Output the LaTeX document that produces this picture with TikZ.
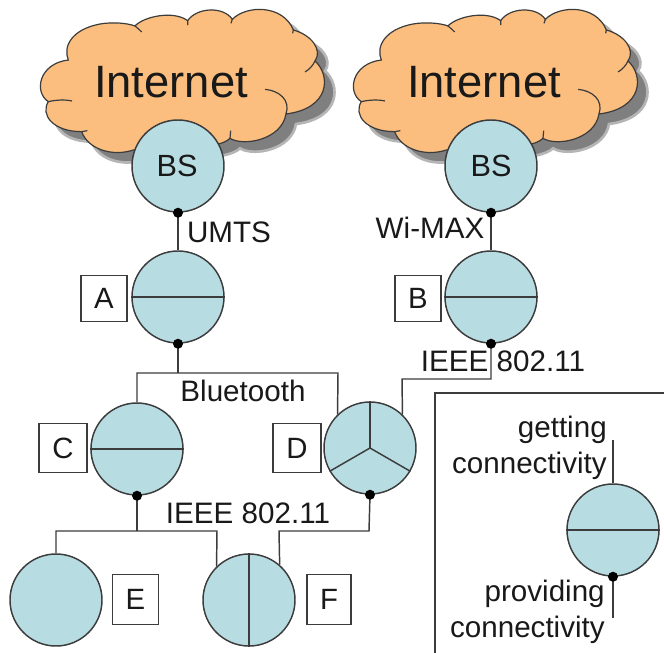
\documentclass[tikz,border=0pt]{standalone}
\usepackage{fontspec}
\setmainfont{Liberation Sans}
\definecolor{nodefill}{HTML}{B7DDE3}
\definecolor{cloudfill}{HTML}{FBBE7E}
\definecolor{linegrey}{HTML}{3C3C3C}
\definecolor{shadowgrey}{HTML}{7F7F7F}
\definecolor{shadowsoft}{HTML}{B5B5B5}
\newcommand{\cloudoutline}{
  (205,180) .. controls (188,140) and (215,88) .. (300,72)
  .. controls (340,65) and (385,70) .. (405,78)
  .. controls (430,50) and (520,30) .. (563,62)
  .. controls (590,22) and (670,18) .. (697,58)
  .. controls (740,14) and (850,14) .. (880,90)
  .. controls (935,105) and (968,150) .. (945,183)
  .. controls (992,225) and (992,325) .. (858,342)
  .. controls (845,420) and (730,440) .. (690,415)
  .. controls (650,455) and (470,445) .. (400,450)
  .. controls (340,470) and (265,450) .. (245,395)
  .. controls (160,395) and (120,345) .. (145,305)
  .. controls (100,275) and (118,190) .. (205,180) -- cycle}
\newcommand{\cloudtails}{
  (405,78) .. controls (412,84) and (420,90) .. (425,96)
  (563,62) -- (563,75)
  (697,58) -- (693,70)
  (880,90) -- (878,100)
  (945,183) .. controls (938,198) and (928,208) .. (915,216)
  (858,342) .. controls (872,300) and (838,272) .. (795,268)
  (690,415) -- (692,392)
  (245,395) -- (262,392)
  (145,305) .. controls (165,300) and (195,298) .. (216,303)}
\newcommand{\drawcloud}[1]{%
  \begin{scope}[x=.25pt,y=-.25pt,shift={(#1,0)}]
    \begin{scope}[shift={(30,30)}]
      \fill[shadowgrey,draw=shadowsoft,line width=2pt] \cloudoutline;
    \end{scope}
    \filldraw[fill=cloudfill,draw=linegrey,line width=.9pt] \cloudoutline;
    \draw[linegrey,line width=.9pt] \cloudtails;
  \end{scope}}
\tikzset{
  station/.style={circle,draw=linegrey,fill=nodefill,line width=1.1pt,minimum size=69pt,inner sep=0pt},
  labelbox/.style={draw=linegrey,fill=white,line width=.8pt,inner sep=0pt,font=\fontsize{22}{22}\selectfont,text=black!90},
  wire/.style={linegrey,line width=1.1pt},
  portdot/.style={circle,fill=black,inner sep=0pt,minimum size=7.5pt},
  txt/.style={inner sep=0pt,font=\fontsize{22.2}{22}\selectfont,text=black!90},
  bigtxt/.style={inner sep=0pt,font=\fontsize{34}{34}\selectfont,text=black!90},
  bstxt/.style={inner sep=0pt,font=\fontsize{23}{23}\selectfont,text=black!90}
}
\begin{document}
\begin{tikzpicture}[x=.75pt,y=-.75pt]
\useasboundingbox (0,0) rectangle (664,653);
\drawcloud{0}
\drawcloud{939}
\node[bigtxt] (inet1) at (171,82) {Internet};
\node[bigtxt] (inet2) at (484,82) {Internet};
% legend frame
\coordinate (lf1) at (664,393);
\coordinate (lf2) at (435,393);
\coordinate (lf3) at (435,653);
\draw[linegrey,line width=.9pt] (lf1) -- (lf2) -- (lf3);
% stations
\node[station] (bs1) at (178,166) {};
\node[bstxt] (bs1t) at (177,166) {BS};
\node[station] (bs2) at (491,166) {};
\node[bstxt] (bs2t) at (491,166) {BS};
\node[station] (A) at (178,297) {};
\node[station] (B) at (491,297) {};
\node[station] (C) at (137,449) {};
\node[station] (D) at (370,448) {};
\node[station] (E) at (56,600) {};
\node[station] (F) at (249,600) {};
\node[station] (L) at (613,530) {};
% divisions
\draw[wire] (A.west) -- (A.east);
\draw[wire] (B.west) -- (B.east);
\draw[wire] (C.west) -- (C.east);
\draw[wire] (L.west) -- (L.east);
\draw[wire] (F.north) -- (F.south);
\draw[wire] (D.center) -- (D.north);
\draw[wire] (D.center) -- (D.-30);
\draw[wire] (D.center) -- (D.210);
% connectors
\coordinate (jA) at (178,373);
\coordinate (jAl) at (137,373);
\coordinate (jAr) at (338,373);
\coordinate (jB) at (491,379);
\coordinate (jBd) at (402,379);
\coordinate (jC) at (137,531);
\coordinate (jCl) at (56,531);
\coordinate (jCr) at (217,531);
\coordinate (jD) at (369,531);
\coordinate (jDl) at (279,531);
\coordinate (lt) at (613,440);
\coordinate (lb) at (613,618);
\draw[wire] (bs1.south) -- (A.north);
\draw[wire] (bs2.south) -- (B.north);
\draw[wire] (A.south) -- (jA);
\draw[wire] (C.north) -- (jAl) -- (jAr) -- (D.134);
\draw[wire] (B.south) -- (jB) -- (jBd) -- (D.46);
\draw[wire] (C.south) -- (jC);
\draw[wire] (E.north) -- (jCl) -- (jCr) -- (F.134);
\draw[wire] (D.south) -- (jD) -- (jDl) -- (F.49);
\draw[wire] (L.north) -- (lt);
\draw[wire] (L.south) -- (lb);
% dots
\node[portdot] (d1) at (bs1.south) {};
\node[portdot] (d2) at (bs2.south) {};
\node[portdot] (d3) at (A.south) {};
\node[portdot] (d4) at (B.south) {};
\node[portdot] (d5) at (C.south) {};
\node[portdot] (d6) at (D.south) {};
\node[portdot] (d7) at (L.south) {};
% letter boxes
\node[labelbox,minimum width=34.5pt,minimum height=35pt] (bA) at (104,298.5) {A};
\node[labelbox,minimum width=34.5pt,minimum height=35pt] (bB) at (418,298.5) {B};
\node[labelbox,minimum width=36pt,minimum height=37pt] (bC) at (63,448) {C};
\node[labelbox,minimum width=36pt,minimum height=37pt] (bD) at (297,448) {D};
\node[labelbox,minimum width=35pt,minimum height=37pt] (bE) at (135.5,599.5) {E};
\node[labelbox,minimum width=33pt,minimum height=37pt] (bF) at (329,599.5) {F};
% labels
\node[txt] (t1) at (229,232) {UMTS};
\node[txt] (t2) at (430,228) {Wi-MAX};
\node[txt] (t3) at (503,361) {IEEE 802.11};
\node[txt] (t4) at (243,391) {Bluetooth};
\node[txt] (t5) at (248,513) {IEEE 802.11};
\node[txt,anchor=base east] (t6) at (607,437) {getting};
\node[txt,anchor=base east] (t7) at (607,473) {connectivity};
\node[txt,anchor=base east] (t8) at (605,601) {providing};
\node[txt,anchor=base east] (t9) at (605,637) {connectivity};
\end{tikzpicture}
\end{document}
